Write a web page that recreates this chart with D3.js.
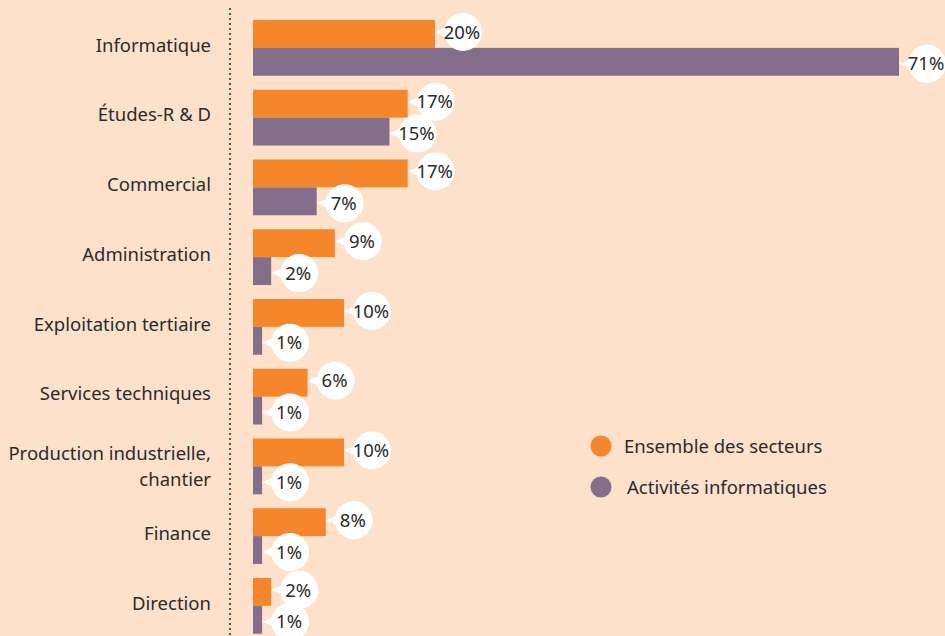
<!DOCTYPE html>
<html><head><meta charset="utf-8">
<script src="https://cdn.jsdelivr.net/npm/d3@7"></script>
<style>
html,body{margin:0;padding:0;background:#fde1cb;overflow:hidden;}
svg{display:block;}
</style></head>
<body>
<svg id="chart" width="945" height="636"></svg>
<script>
const categories = ["Informatique","Études-R & D","Commercial","Administration","Exploitation tertiaire","Services techniques","Production industrielle,\nchantier","Finance","Direction"];
const seriesNames = ["Ensemble des secteurs","Activités informatiques"];
const ensemble = [20,17,17,9,10,6,10,8,2];
const informatique = [71,15,7,2,1,1,1,1,1];
const colors = ["#f5862c","#846e8a"];

const svg = d3.select("#chart");
const W = 945, H = 636;
svg.append("rect").attr("width",W).attr("height",H).attr("fill","#fde1cb");

const x = d3.scaleLinear().domain([0,71]).range([253,899]);
const y = d3.scaleBand().domain(categories).range([13,13+69.75*9]).paddingInner(0.2).paddingOuter(0.1);
const ySub = d3.scaleBand().domain([0,1]).range([0,y.bandwidth()]).padding(0);

const font = "'Noto Sans', 'Open Sans', sans-serif";
const textColor = "#2b2b2b";

// dotted axis line
svg.append("line").attr("x1",230).attr("x2",230).attr("y1",8).attr("y2",H)
  .attr("stroke","#555").attr("stroke-width",2).attr("stroke-dasharray","2,3");

const series = [ensemble, informatique];
const offsets = [-2, 2];

series.forEach((vals, si) => {
  const g = svg.append("g");
  g.selectAll("rect").data(categories).join("rect")
    .attr("x", x(0))
    .attr("y", c => y(c) + ySub(si))
    .attr("width", (c,i) => x(vals[i]) - x(0))
    .attr("height", ySub.bandwidth())
    .attr("fill", colors[si]);
});

series.forEach((vals, si) => {
  categories.forEach((c, i) => {
    const bx = x(vals[i]);
    const by = y(c) + ySub(si) + ySub.bandwidth()/2;
    const cx = bx + 28, cy = by + offsets[si];
    const g = svg.append("g");
    g.append("path")
      .attr("d", `M${bx},${cy} L${cx-14},${cy-6} L${cx-14},${cy+6} Z`)
      .attr("fill","#fff");
    g.append("circle").attr("cx",cx).attr("cy",cy).attr("r",19).attr("fill","#fff");
    g.append("text").attr("x",cx-1).attr("y",cy).attr("dy","0.36em")
      .attr("text-anchor","middle").attr("font-family",font).attr("font-size",18.5)
      .attr("fill",textColor).text(vals[i] + "%");
  });
});

// category labels
categories.forEach(c => {
  const lines = c.split("\n");
  const cy = y(c) + y.bandwidth()/2 - 3 + (lines.length > 1 ? 3 : 0);
  const t = svg.append("text").attr("text-anchor","end").attr("font-family",font)
    .attr("font-size",18.5).attr("fill",textColor);
  lines.forEach((ln, k) => {
    t.append("tspan").attr("x",211)
      .attr("y", cy + (k - (lines.length-1)/2) * 26)
      .attr("dy","0.36em").text(ln);
  });
});

// legend
const legY = [446, 487];
const legX = [624, 627];
seriesNames.forEach((n, i) => {
  svg.append("circle").attr("cx",601).attr("cy",legY[i]).attr("r",10.5).attr("fill",colors[i]);
  svg.append("text").attr("x",legX[i]).attr("y",legY[i]).attr("dy","0.36em")
    .attr("font-family",font).attr("font-size",18.5).attr("fill",textColor).text(n);
});
</script>
</body></html>
